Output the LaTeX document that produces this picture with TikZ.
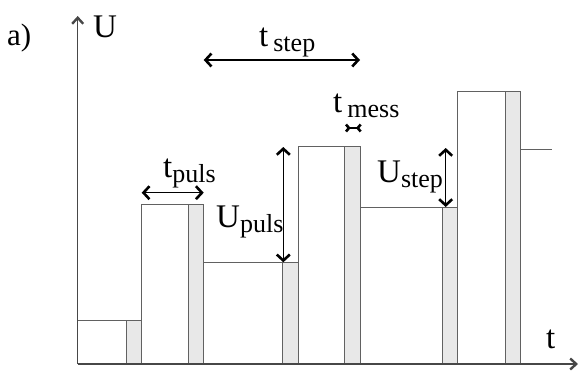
\documentclass[tikz,border=0pt]{standalone}
\usepackage{fontspec}
\setmainfont{Liberation Serif}
\usetikzlibrary{arrows.meta}

% quantity with a lowered, smaller subscript: \qtysub{symbol}{gap}{subscript}
\newcommand\mainsz{\fontsize{33}{33}\selectfont}
\newcommand\subsz{\fontsize{26}{26}\selectfont}
\newcommand\qtysub[3]{{\mainsz #1}\hspace{#2}\raisebox{-5pt}{\subsz #3}}

\tikzset{
  axisline/.style={draw=black!72, line width=1.4pt},
  axistip/.style={-{Straight Barb[length=6pt,width=11pt,line width=2.4pt]}},
  wave/.style={draw=black!62, line width=1pt},
  bar/.style={wave, fill=black!9},
  dim/.style={line width=1.4pt,
    {Straight Barb[length=6pt,width=13pt,line width=2.6pt]}-{Straight Barb[length=6pt,width=13pt,line width=2.6pt]}},
  gapdim/.style={line width=1.8pt,
    {Straight Barb[reversed,length=3pt,width=7pt,line width=2.6pt]}-{Straight Barb[reversed,length=3pt,width=7pt,line width=2.6pt]}},
  lbl/.style={inner sep=0pt, anchor=base west, text=black}
}

\begin{document}
\begin{tikzpicture}[x=1pt,y=-1pt]
\useasboundingbox (0,0) rectangle (579,370);

% ---- axes ----
\coordinate (o) at (77.7,364);
\coordinate (ytip) at (77.7,16);
\coordinate (xtip) at (578,364);

% ---- measuring windows (grey bars): left, right, top ----
\foreach \xl/\xr/\top in {126/141.7/320, 188.3/203.7/204.3, 282.7/298/262.3,
                          344.7/360/146.7, 442.3/457/207, 505.7/520.3/91.3}
  \draw[bar] (\xl,364) rectangle (\xr,\top);

% ---- staircase voltage with pulses ----
\draw[wave] (77.7,320) -- (141.7,320) -- (141.7,204.3) -- (203.7,204.3)
  -- (203.7,262.3) -- (298,262.3) -- (298,146.7) -- (360,146.7)
  -- (360,207) -- (457,207) -- (457,91.3) -- (520.3,91.3)
  -- (520.3,149) -- (552,149);
\draw[wave] (141.7,204.3) -- (141.7,364);
\draw[wave] (298,146.7) -- (298,364);
\draw[wave] (457,91.3) -- (457,364);

\draw[axisline, axistip] (o) -- (ytip);
\draw[axisline, axistip] (o) -- (xtip);

% ---- labels ----
\node[lbl] (alabel) at (7,45) {\fontsize{31}{31}\selectfont a)};
\node[lbl] (ulabel) at (93,37) {\mainsz U};
\node[lbl] (tlabel) at (546,348) {\mainsz t};

\node[lbl] (tstep) at (259,46) {\qtysub{t}{5pt}{step}};
\node[lbl] (tpuls) at (163,177) {\qtysub{t}{0pt}{puls}};
\node[lbl] (upuls) at (216,227) {\qtysub{U}{0pt}{puls}};
\node[lbl] (tmess) at (333,112) {\qtysub{t}{5pt}{mess}};
\node[lbl] (ustep) at (377,182) {\qtysub{U}{0pt}{step}};

% ---- dimension arrows ----
\coordinate (stepL) at (203.7,60);
\coordinate (stepR) at (360,60);
\draw[dim] (stepL) -- (stepR);

\coordinate (pulsL) at (141.7,192.7);
\coordinate (pulsR) at (203.7,192.7);
\draw[dim] (pulsL) -- (pulsR);

\coordinate (upT) at (283.3,147);
\coordinate (upB) at (283.3,262.3);
\draw[dim] (upT) -- (upB);

\coordinate (usT) at (445.7,148);
\coordinate (usB) at (445.7,207);
\draw[dim] (usT) -- (usB);

\coordinate (messL) at (344.7,128);
\coordinate (messR) at (362,128);
\draw[gapdim] (messL) -- (messR);
\end{tikzpicture}
\end{document}
